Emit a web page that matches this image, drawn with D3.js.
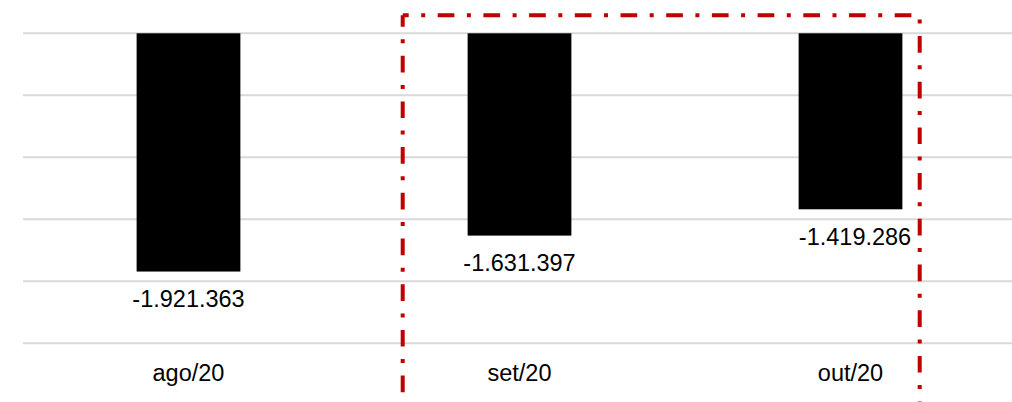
<!DOCTYPE html>
<html>
<head>
<meta charset="utf-8">
<script src="https://cdn.jsdelivr.net/npm/d3@7"></script>
<style>
  html, body { margin: 0; padding: 0; background: #fff; }
  svg { display: block; }
  text { font-family: "Liberation Sans", Arial, sans-serif; fill: #000; }
</style>
</head>
<body>
<svg id="chart" width="1012" height="402"></svg>
<script>
// Monthly balance (negative values), month labels in pt-BR
const categories = ["ago/20", "set/20", "out/20"];
const values = [-1921363, -1631397, -1419286];
const valueLabels = ["-1.921.363", "-1.631.397", "-1.419.286"];
const gridTicks = [0, -500000, -1000000, -1500000, -2000000, -2500000];

const width = 1012, height = 402;
const svg = d3.select("#chart");

const x = d3.scaleBand().domain(categories).range([23, 1016]).padding(0);
const y = d3.scaleLinear().domain([-2500000, 0]).range([343.3, 33.3]);
const barW = x.bandwidth() / 3.19;

// the last value label sits a little right of its bar centre
const labelNudge = { "out/20": 4.5 };

// horizontal gridlines
svg.append("g")
  .selectAll("line")
  .data(gridTicks)
  .join("line")
  .attr("x1", 23).attr("x2", 1016)
  .attr("y1", d => y(d)).attr("y2", d => y(d))
  .attr("stroke", "#d9d9d9")
  .attr("stroke-width", 2);

// bars hanging from the zero line
svg.append("g")
  .selectAll("rect")
  .data(values)
  .join("rect")
  .attr("x", (d, i) => x(categories[i]) + (x.bandwidth() - barW) / 2)
  .attr("y", d => y(0))
  .attr("width", barW)
  .attr("height", d => y(d) - y(0))
  .attr("fill", "#000");

// value labels below each bar
svg.append("g")
  .selectAll("text")
  .data(values)
  .join("text")
  .attr("x", (d, i) => x(categories[i]) + x.bandwidth() / 2 + (labelNudge[categories[i]] || 0))
  .attr("y", d => y(d) + 35.7)
  .attr("text-anchor", "middle")
  .attr("font-size", "23.5px")
  .text((d, i) => valueLabels[i]);

// category labels
svg.append("g")
  .selectAll("text")
  .data(categories)
  .join("text")
  .attr("x", d => x(d) + x.bandwidth() / 2)
  .attr("y", 381)
  .attr("text-anchor", "middle")
  .attr("font-size", "23.5px")
  .text(d => d);

// dash-dot highlight frame around the last two months
const boxLeft = 402.7, boxRight = 919.7, boxTop = 15.3, boxBottom = 420;
const dash = "16.7,12.5,4,12.5";
const frame = svg.append("g")
  .attr("fill", "none")
  .attr("stroke", "#c00000")
  .attr("stroke-width", 4)
  .attr("stroke-dasharray", dash);

frame.append("path")
  .attr("d", `M${boxLeft},${boxTop}L${boxLeft},${boxBottom}`)
  .attr("stroke-dashoffset", 5.3);

frame.append("path")
  .attr("d", `M${boxLeft},${boxTop}L${boxRight},${boxTop}L${boxRight},${boxBottom}`)
  .attr("stroke-dashoffset", 10.7);
</script>
</body>
</html>
